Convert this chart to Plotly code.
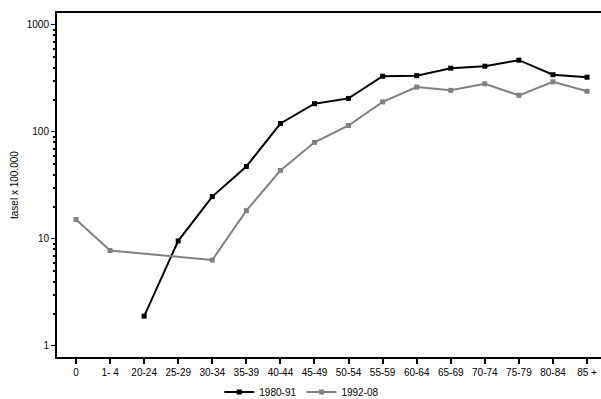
import plotly.graph_objects as go

categories = ["0", "1- 4", "20-24", "25-29", "30-34", "35-39", "40-44", "45-49",
              "50-54", "55-59", "60-64", "65-69", "70-74", "75-79", "80-84", "85 +"]
series_1980 = [None, None, 1.9, 9.6, 24.9, 47.6, 120, 184, 206, 332, 336, 395, 412, 469, 343, 325]
series_1992 = [15.2, 7.8, None, None, 6.36, 18.4, 43.7, 80, 115, 191, 263, 245, 282, 220, 294, 240]
y_ticks = [1, 10, 100, 1000]

x = list(range(len(categories)))

fig = go.Figure()
fig.add_trace(go.Scatter(x=x, y=series_1980, name="1980-91", mode="lines+markers",
                         line=dict(color="black", width=2),
                         marker=dict(symbol="square", size=5, color="black")))
fig.add_trace(go.Scatter(x=x, y=series_1992, name="1992-08", mode="lines+markers",
                         connectgaps=True,
                         line=dict(color="#808080", width=2),
                         marker=dict(symbol="square", size=5, color="#808080")))

fig.update_layout(
    width=601, height=399,
    margin=dict(l=57, r=0, t=13, b=42, autoexpand=False),
    paper_bgcolor="white", plot_bgcolor="white",
    font=dict(family="Liberation Sans, Arial, sans-serif", size=10, color="black"),
    showlegend=True,
    legend=dict(orientation="h", x=0.45, xanchor="center", y=-0.102, yanchor="middle",
                font=dict(size=10), itemwidth=30, tracegroupgap=0),
)
fig.add_annotation(text="tasel x 100.000", textangle=-90, xref="paper", yref="paper",
                   x=0, y=0.5, xshift=-43, xanchor="center", yanchor="middle",
                   showarrow=False, font=dict(size=10))
fig.update_xaxes(
    range=[-0.558, 15.41], tickmode="array", tickvals=x, ticktext=categories,
    showline=True, linecolor="black", linewidth=2, mirror=True,
    ticks="outside", ticklen=5, tickwidth=2, tickcolor="black",
    showgrid=False, zeroline=False, automargin=False,
)
fig.update_yaxes(
    type="log", range=[-0.103, 3.112],
    tickmode="array", tickvals=y_ticks, ticktext=[str(v) for v in y_ticks],
    showline=True, linecolor="black", linewidth=2,
    ticks="outside", ticklen=4, tickwidth=1, tickcolor="black",
    minor=dict(ticks="outside", ticklen=2, tickwidth=2, tickcolor="black",
               tickvals=[m * d for d in [1, 10, 100, 1000] for m in range(2, 10)], showgrid=False),
    showgrid=False, zeroline=False, automargin=False,
)

fig.write_html("out.html", config={"displayModeBar": False},
               post_script="document.body.style.margin='0px';document.body.style.overflow='hidden';")
